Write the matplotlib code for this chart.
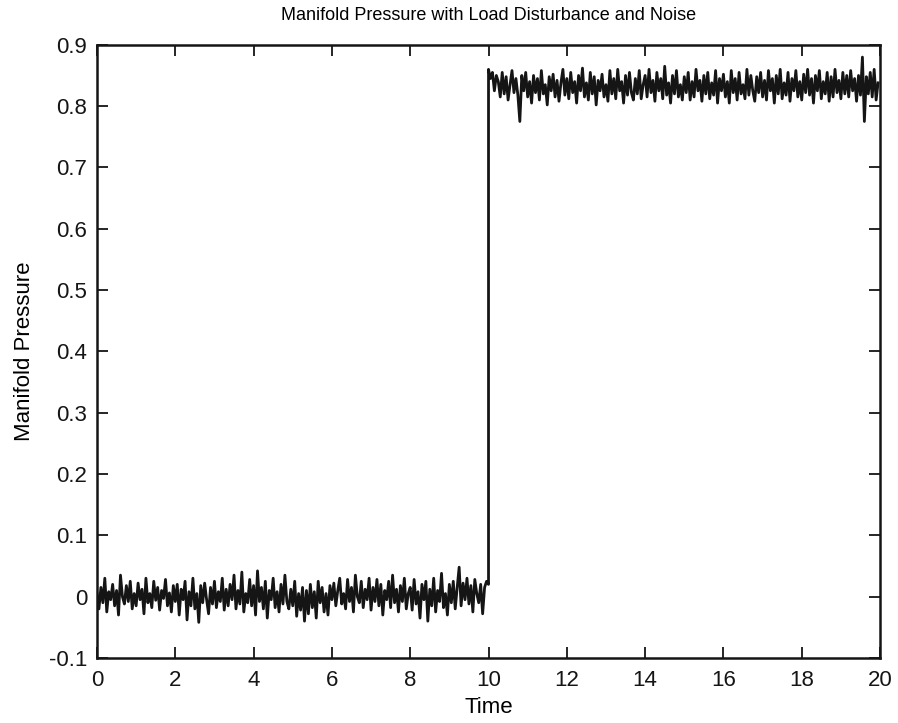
import numpy as np
import matplotlib
matplotlib.use("Agg")
import matplotlib.pyplot as plt

plt.rcParams["font.family"] = ["Liberation Sans Narrow", "Liberation Sans", "DejaVu Sans"]

DT = 0.05
LEVEL_BEFORE = 0.0
LEVEL_AFTER = 0.83
noise_before = [
    5, -20, 15, -10, 30, -25, 8, -5, 20, -15, 10, -30, 35, 0, -12, 18, -8, 25, -20, 5,
    -15, 22, -5, 12, -28, 30, -10, 5, -18, 25, -6, 15, -22, 10, -3, 28, -15, 6, -25, 18,
    -8, 20, -30, 12, -5, 25, -38, 8, -15, 30, -20, 5, -42, 18, -10, 22, -5, -28, 15, -12,
    25, -18, 8, -8, 30, -22, 12, -15, 20, -5, 35, -20, 10, -12, 40, -25, 5, -10, 28, -15,
    18, -30, 42, -8, 15, -20, 25, -35, 10, -5, 30, -18, 8, -25, 20, -12, 35, -8, -20, 12,
    -15, 25, -32, 5, -22, 15, -40, 10, -28, 20, -18, 8, -35, 25, -10, 15, -25, 5, -30, 18,
    -5, 22, -15, 10, 30, -12, 5, -20, 28, -8, 15, -25, 35, 0, -10, 25, -18, 12, -5, 30,
    -22, 15, -8, 28, -15, 20, -30, 10, -5, 25, -18, 35, -10, 12, -25, 18, -8, 30, -20, 5,
    15, -22, 28, -12, 8, -35, 20, -5, 25, -40, 12, -15, 30, -25, 10, -8, 38, -18, 5, -30,
    20, -10, 25, -20, 15, 48, -15, 22, -5, 30, -12, 18, -25, 28, 5, -10, 20, -28, 15, 25,
    20,
]
noise_after = [
    30,
    15, 25, -5, 20, 10, -15, 25, -10, 18, -20, 5, 28, -8, 15, -12, -55, 20, -5, 25, -15,
    10, -25, 20, -8, 15, -20, 28, -10, 5, -28, 18, -5, 22, -15, 12, -22, 8, 30, -12, 15,
    -18, 25, -8, 10, -25, 20, -5, 32, -15, 8, -20, 25, -10, 18, -28, 12, -5, 22, -15, 5,
    -22, 28, -10, 15, -18, 30, -5, 10, -25, 20, -12, 25, -8, -20, 15, -10, 28, -18, 5, 20,
    -15, 30, -8, 12, -22, 25, -5, 15, -18, 35, -12, 8, -25, 20, -10, 28, -15, 5, -20, 18,
    -8, 25, -20, 10, -15, 30, -5, 12, -22, 20, -10, 25, -18, 8, -12, 28, -25, 15, -5, 22,
    -15, 10, -25, 28, -8, 15, -20, 25, -10, 5, -18, 30, -12, 20, -5, -22, 18, -8, 25, -15,
    12, -20, 28, -5, 15, -25, 20, -10, 30, -18, 8, -12, 25, -22, 15, -5, 28, -15, 10, -20,
    22, -8, 30, -12, 15, -25, 20, -5, 28, -18, 10, -10, 25, -22, 18, -15, 30, -8, 12, -18,
    25, -10, 20, -15, 28, -5, 15, -22, 20, -12, 50, -55, 18, -10, 25, -15, 30, -20, 8,
]

t_before = np.arange(len(noise_before)) * DT
t_after = 10.0 + np.arange(len(noise_after)) * DT
t = np.concatenate([t_before, t_after])
p = np.concatenate([LEVEL_BEFORE + np.array(noise_before) / 1000.0,
                    LEVEL_AFTER + np.array(noise_after) / 1000.0])

fig = plt.figure(figsize=(8.98, 7.23), dpi=100)
ax = fig.add_axes([0.108, 0.090, 0.872, 0.848])
ax.plot(t, p, color="#151515", lw=2.0)

ax.set_xlim(0, 20)
ax.set_ylim(-0.1, 0.9)
ax.set_xticks(np.arange(0, 21, 2))
ax.set_yticks(np.round(np.arange(-0.1, 0.91, 0.1), 1))
ax.set_yticklabels(["-0.1", "0", "0.1", "0.2", "0.3", "0.4", "0.5", "0.6", "0.7", "0.8", "0.9"])
ax.tick_params(direction="in", length=8, width=1.3, labelsize=16,
               top=True, right=True, pad=7, colors="#151515")
ax.tick_params(axis="x", pad=9)
for s in ax.spines.values():
    s.set_linewidth(1.8)
    s.set_color("#151515")

ax.set_title("Manifold Pressure with Load Disturbance and Noise", fontsize=13, pad=18)
ax.set_xlabel("Time", fontsize=16, labelpad=4)
ax.set_ylabel("Manifold Pressure", fontsize=16, labelpad=10)

fig.savefig("out.png", dpi=100)
